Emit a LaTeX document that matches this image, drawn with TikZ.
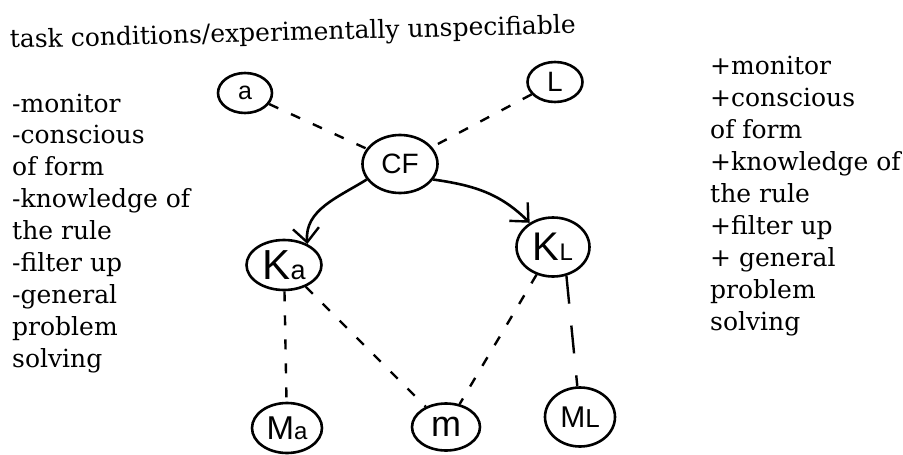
\documentclass[tikz,border=0pt]{standalone}
\usepackage{fontspec}
\setmainfont{DejaVu Serif}
\newfontfamily\handfont{Liberation Sans}
\usetikzlibrary{shapes.geometric,arrows.meta}

% handwritten-style label sizes
\newcommand{\lbl}[1]{\fontsize{#1}{#1}\selectfont}

\begin{document}
\begin{tikzpicture}[x=1pt,y=-1pt,
  blob/.style={ellipse,draw,line width=2.6pt,inner sep=0pt,
    font=\handfont\lbl{26}},
  listline/.style={anchor=base west,inner sep=0pt,
    font=\fontsize{25}{32}\selectfont},
  dashlink/.style={line width=2.4pt,dash pattern=on 10pt off 14pt},
  longdash/.style={line width=2.4pt,dash pattern=on 28pt off 22pt},
  arrowlink/.style={line width=2.6pt,
    -{Straight Barb[length=14pt,width=26pt,line width=2.4pt]}}]
\useasboundingbox[fill=white] (0,0) rectangle (903,455);

% heading
\node[anchor=base west,inner sep=0pt,rotate=1.5,
  font=\fontsize{25}{25}\selectfont] (title) at (10,48)
  {task conditions/experimentally unspecifiable};

% left-hand list
\foreach \t [count=\i from 0] in {-monitor,-conscious,of form,
    -knowledge of,the rule,-filter up,-general,problem,solving}
  \node[listline] (lft\i) at (12,112+31.9*\i) {\t};

% right-hand list
\foreach \t [count=\i from 0] in {+monitor,+conscious,of form,
    +knowledge of,the rule,+filter up,+ general,problem,solving}
  \node[listline] (rgt\i) at (710,74+32*\i) {\t};

% nodes
\node[blob,minimum width=54pt,minimum height=40pt] (a)  at (245,93)  {\lbl{25}a};
\node[blob,minimum width=55pt,minimum height=40pt] (L)  at (555,82)  {\lbl{28}L};
\node[blob,minimum width=75pt,minimum height=58pt] (CF) at (400,164) {\lbl{28}CF};
\node[blob,minimum width=75pt,minimum height=50pt] (Ka) at (284,265)
  {\lbl{42}K\lbl{27}a};
\node[blob,minimum width=73pt,minimum height=59pt] (KL) at (553,247)
  {\lbl{40}K\lbl{24}L};
\node[blob,minimum width=70pt,minimum height=50pt] (Ma) at (287,428)
  {\lbl{33}M\lbl{24}a};
\node[blob,minimum width=68pt,minimum height=47pt] (m)  at (446,427) {\lbl{36}m};
\node[blob,minimum width=70pt,minimum height=59pt] (ML) at (580,417)
  {\lbl{30}M\lbl{26}L};

% links
\draw[dashlink] (a) -- (CF);
\draw[dashlink] (L) -- (CF);
\draw[arrowlink] (CF.205) to[out=212,in=95] (Ka.42);
\draw[arrowlink] (CF.335) to[out=-8,in=135] (KL.134);
\draw[dashlink] (Ka) -- (Ma);
\draw[dashlink] (Ka) -- (m);
\draw[dashlink] (KL) -- (m);
\draw[longdash] (KL.-65) -- (ML.95);
\end{tikzpicture}
\end{document}
